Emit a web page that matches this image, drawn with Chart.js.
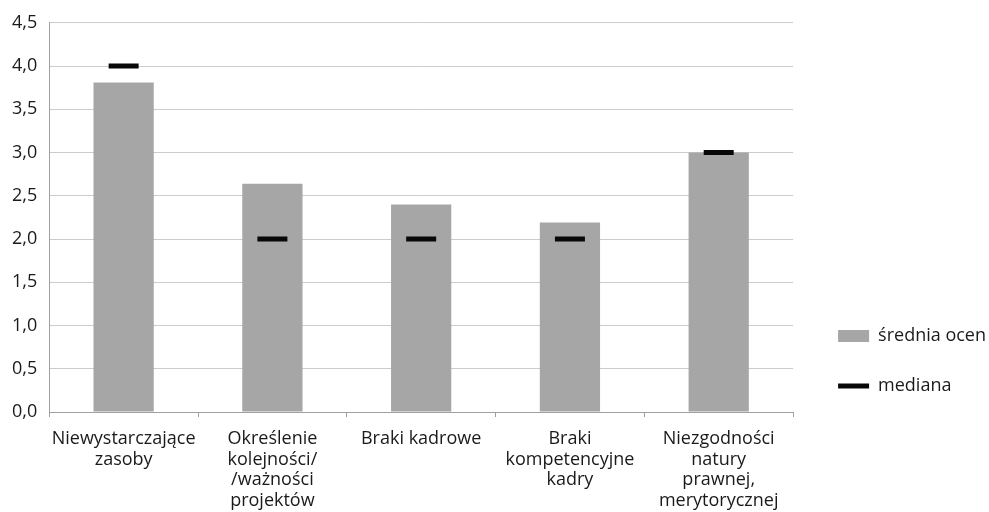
<!DOCTYPE html>
<html>
<head>
<meta charset="utf-8">
<script src="https://cdn.jsdelivr.net/npm/chart.js@4"></script>
<style>
  html, body { margin: 0; padding: 0; background: #fff; }
  #wrap { width: 989px; height: 512px; }
</style>
</head>
<body>
<div id="wrap"><canvas id="chart"></canvas></div>
<script>
const categories = [
    ['Niewystarczające', 'zasoby'],
    ['Określenie', 'kolejności/', '/ważności', 'projektów'],
    ['Braki kadrowe'],
    ['Braki', 'kompetencyjne', 'kadry'],
    ['Niezgodności', 'natury', 'prawnej,', 'merytorycznej']
];
const meanValues = [3.81, 2.64, 2.40, 2.19, 3.0];
const medianValues = [4, 2, 2, 2, 3];
const seriesNames = ['średnia ocen', 'mediana'];

const FONT = "'Open Sans', sans-serif";

// push the legend down next to the lower part of the plot, like the original
const legendShift = {
    id: 'legendShift',
    afterLayout(chart) {
        const lg = chart.legend;
        const h = lg.bottom - lg.top;
        lg.top = chart.chartArea.bottom - 117;
        lg.bottom = lg.top + h;
        lg.left = chart.chartArea.right + 13;
        lg.right = lg.left + lg.width;
    }
};

const ctx = document.getElementById('chart').getContext('2d');
new Chart(ctx, {
    type: 'bar',
    data: {
        labels: categories,
        datasets: [{
            type: 'bar',
            label: seriesNames[0],
            data: meanValues,
            backgroundColor: '#a6a6a6',
            borderWidth: 0,
            pointStyle: 'rect',
            barPercentage: 0.405,
            categoryPercentage: 1,
            order: 1
        }, {
            type: 'line',
            label: seriesNames[1],
            data: medianValues,
            showLine: false,
            pointStyle: 'line',
            pointRadius: 15,
            pointHoverRadius: 15,
            pointBorderWidth: 5,
            pointBorderColor: '#080808',
            borderColor: '#080808',
            order: 0
        }]
    },
    options: {
        responsive: true,
        maintainAspectRatio: false,
        animation: false,
        layout: { padding: { left: 0, top: 10, right: 6, bottom: 0 } },
        plugins: {
            tooltip: { enabled: false },
            legend: {
                position: 'right',
                align: 'start',
                labels: {
                    usePointStyle: true,
                    pointStyleWidth: 31,
                    boxHeight: 12,
                    padding: 32,
                    color: '#1a1a1a',
                    font: { family: FONT, size: 18 },
                    sort: (a, b) => a.datasetIndex - b.datasetIndex
                }
            }
        },
        scales: {
            x: {
                offset: true,
                grid: {
                    display: true,
                    drawOnChartArea: false,
                    drawTicks: true,
                    tickLength: 5,
                    color: '#a0a0a0',
                    offset: true
                },
                border: { color: '#a0a0a0' },
                ticks: {
                    color: '#1a1a1a',
                    font: { family: FONT, size: 18, lineHeight: 1.14 },
                    maxRotation: 0,
                    minRotation: 0,
                    autoSkip: false,
                    padding: 12
                },
                afterFit: (scale) => { scale.height = 100; }
            },
            y: {
                min: 0,
                max: 4.5,
                grid: { color: '#cccccc', drawTicks: false },
                border: { color: '#a0a0a0' },
                ticks: {
                    stepSize: 0.5,
                    padding: 12,
                    color: '#1a1a1a',
                    font: { family: FONT, size: 18 },
                    callback: (v) => v.toFixed(1).replace('.', ',')
                }
            }
        }
    },
    plugins: [legendShift]
});
</script>
</body>
</html>
